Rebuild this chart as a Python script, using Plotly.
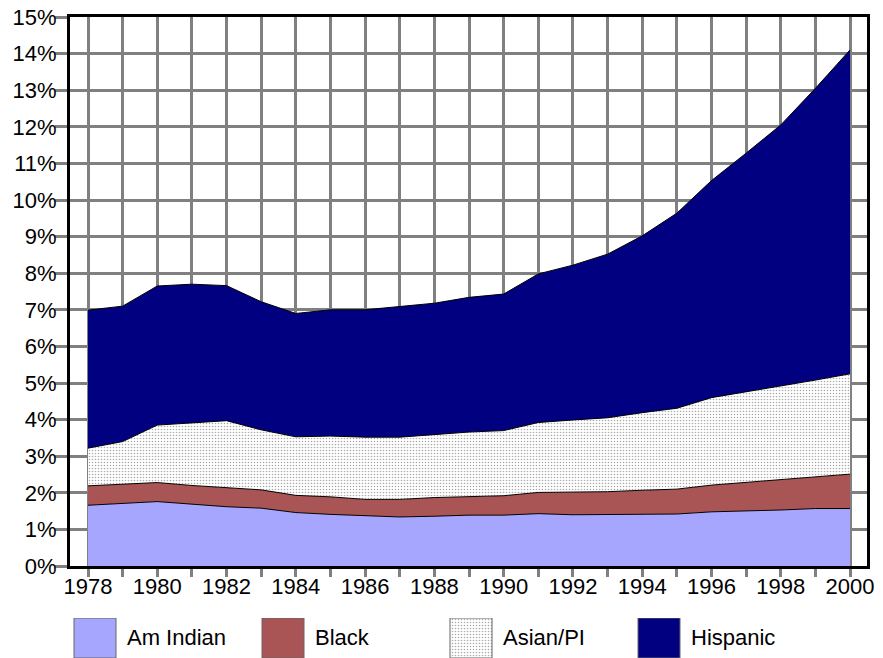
import plotly.graph_objects as go

years = list(range(1978, 2001))
am_indian = [1.66, 1.71, 1.76, 1.69, 1.62, 1.58, 1.46, 1.41, 1.37, 1.34, 1.36, 1.39,
             1.39, 1.43, 1.40, 1.41, 1.41, 1.42, 1.48, 1.50, 1.53, 1.57, 1.57]
black = [0.53, 0.53, 0.52, 0.51, 0.52, 0.50, 0.47, 0.48, 0.45, 0.48, 0.51, 0.50,
         0.53, 0.58, 0.62, 0.62, 0.66, 0.68, 0.73, 0.78, 0.82, 0.87, 0.94]
asian_pi = [1.03, 1.16, 1.57, 1.72, 1.83, 1.64, 1.60, 1.66, 1.70, 1.70, 1.73, 1.77,
            1.78, 1.91, 1.97, 2.02, 2.12, 2.21, 2.39, 2.48, 2.55, 2.64, 2.74]
hispanic = [3.77, 3.70, 3.80, 3.78, 3.69, 3.50, 3.37, 3.45, 3.48, 3.58, 3.58, 3.68,
            3.73, 4.06, 4.23, 4.47, 4.83, 5.33, 5.93, 6.52, 7.15, 7.97, 8.85]

series_names = ["Am Indian", "Black", "Asian/PI", "Hispanic"]
series_values = [am_indian, black, asian_pi, hispanic]
y_ticks = list(range(0, 16))
x_tick_labels = [str(y) if y % 2 == 0 else "" for y in years]

colors = ["#A6A6FF", "#AA5555", "#FFFFFF", "#000080"]
patterns = [None, None, dict(shape=".", fgcolor="#555555", bgcolor="#FFFFFF", size=3, solidity=0.22), None]

FONT = "Liberation Sans, Arial, sans-serif"
# page body has an 8px margin, so the figure is sized to fit the 883x658 window
OFF = 8
W, H = 883 - OFF, 658 - OFF
ML, MT = 70 - OFF, 17 - OFF
MR = W - (867 - OFF)
plot_bottom_px = 566 - OFF
paper_h = H - MT
main_dom0 = (H - plot_bottom_px) / paper_h

fig = go.Figure()
for name, vals, col, pat in zip(series_names, series_values, colors, patterns):
    kw = dict(x=years, y=vals, name=name, mode="lines", stackgroup="one",
              line=dict(color="#000000", width=1), fillcolor=col,
              showlegend=False, hoverinfo="x+y+name")
    if pat:
        kw["fillpattern"] = pat
    fig.add_trace(go.Scatter(**kw))

# custom legend drawn on an auxiliary pixel-scaled axis pair
leg_h = 40
leg_x = [74 - OFF, 262 - OFF, 450 - OFF, 638 - OFF]
box_w, box_h = 42, 40
for name, col, pat, x0 in zip(series_names, colors, patterns, leg_x):
    kw = dict(x=[x0, x0 + box_w, x0 + box_w, x0, x0], y=[0, 0, box_h, box_h, 0],
              mode="lines", fill="toself", fillcolor=col,
              line=dict(color="#666666", width=1), xaxis="x2", yaxis="y2",
              showlegend=False, hoverinfo="skip")
    if pat:
        kw["fillpattern"] = pat
    fig.add_trace(go.Scatter(**kw))
    fig.add_annotation(x=x0 + box_w + 9, y=box_h / 2 + 1, xref="x2", yref="y2",
                       text=name, showarrow=False, xanchor="left", yanchor="middle",
                       font=dict(family=FONT, size=22, color="#000000"))

fig.update_layout(
    width=W, height=H,
    margin=dict(l=ML, r=MR, t=MT, b=0, pad=0, autoexpand=False),
    paper_bgcolor="#FFFFFF", plot_bgcolor="#FFFFFF",
    font=dict(family=FONT, size=22, color="#000000"),
    xaxis=dict(range=[1977.48, 2000.49], tickmode="array", tickvals=years,
               ticktext=x_tick_labels, showgrid=True, gridcolor="#808080", gridwidth=3,
               ticks="outside", ticklen=8, tickwidth=3, tickcolor="#808080",
               ticklabelstandoff=-9, ticklabeloverflow="allow",
               showline=True, linecolor="#000000", linewidth=3, mirror=True,
               zeroline=False, domain=[0, 1], anchor="y", automargin=False),
    yaxis=dict(range=[0, 15], tickmode="array", tickvals=y_ticks,
               ticktext=[f"{v}%" for v in y_ticks], showgrid=True, gridcolor="#808080",
               gridwidth=3, ticks="outside", ticklen=12, tickwidth=3, tickcolor="#808080",
               ticklabelstandoff=-6, ticklabeloverflow="allow",
               showline=True, linecolor="#000000", linewidth=3, mirror=True,
               zeroline=False, domain=[main_dom0, 1], anchor="x", automargin=False),
    xaxis2=dict(range=[ML, W - MR], domain=[0, 1], visible=False, anchor="y2",
                fixedrange=True, automargin=False),
    yaxis2=dict(range=[0, leg_h], domain=[0, leg_h / paper_h], visible=False,
                anchor="x2", fixedrange=True, automargin=False),
)

fig.write_html("out.html")
